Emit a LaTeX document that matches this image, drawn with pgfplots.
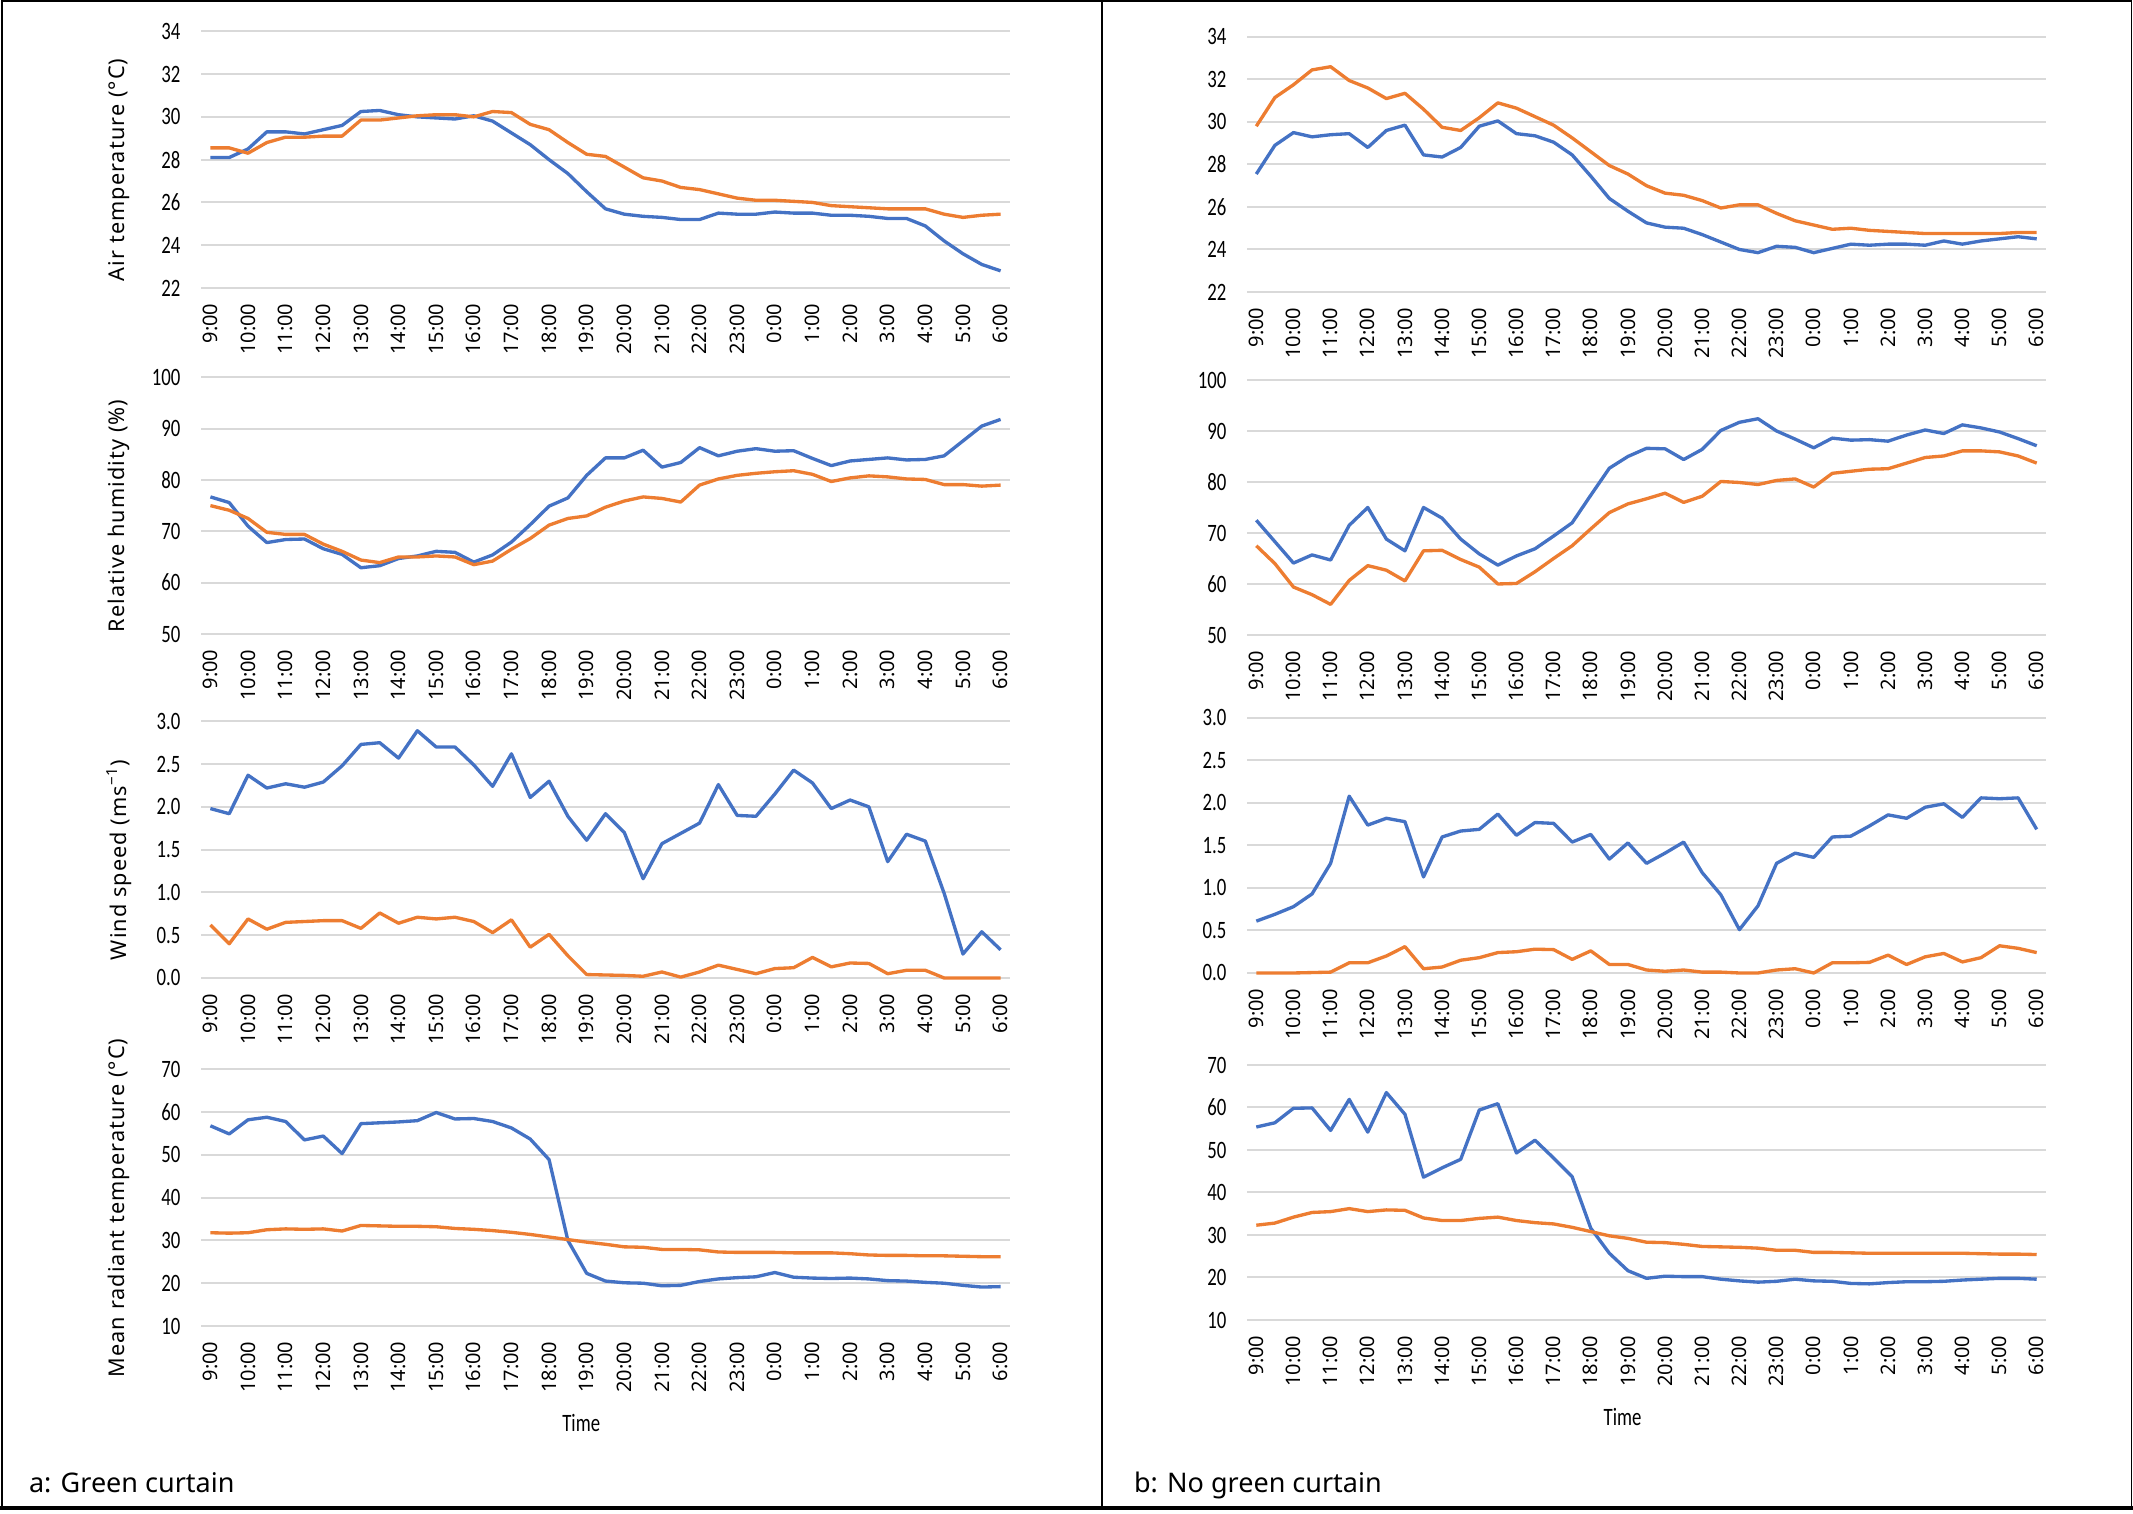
\documentclass[border=0pt]{standalone}
\usepackage{pgfplots}
\pgfplotsset{compat=1.18}
\usepackage{pgfplotstable}
\usepackage{fontspec}
\setmainfont{Noto Sans}
\newfontfamily\narrow[FakeStretch=0.75]{Carlito}
\newfontfamily\wide[LetterSpace=5]{Noto Sans}
\definecolor{xblue}{HTML}{4472C4}
\definecolor{xorange}{HTML}{ED7D31}
\definecolor{gridgray}{HTML}{D9D9D9}

% a: green curtain -- t air temp, h humidity, w wind, m MRT (b = blue, o = orange)
\pgfplotstableread{
i tb to hb ho wb wo mb mo
0 28.1 28.55 76.7 75.0 1.98 0.62 56.8 31.8
1 28.1 28.55 75.6 74.1 1.92 0.40 54.9 31.7
2 28.5 28.3 71.0 72.5 2.37 0.69 58.2 31.8
3 29.3 28.8 67.8 69.8 2.22 0.57 58.8 32.5
4 29.3 29.05 68.4 69.4 2.27 0.65 57.8 32.7
5 29.2 29.05 68.5 69.4 2.23 0.66 53.5 32.6
6 29.4 29.1 66.6 67.5 2.29 0.67 54.4 32.7
7 29.6 29.1 65.5 66.1 2.48 0.67 50.3 32.2
8 30.25 29.85 62.9 64.4 2.73 0.58 57.3 33.5
9 30.3 29.85 63.3 63.9 2.75 0.76 57.5 33.4
10 30.1 29.95 64.7 65.0 2.57 0.64 57.7 33.3
11 30.0 30.05 65.2 65.0 2.89 0.71 58.0 33.3
12 29.95 30.1 66.1 65.2 2.70 0.69 59.9 33.2
13 29.9 30.1 65.9 65.0 2.70 0.71 58.4 32.8
14 30.05 30.0 64.0 63.5 2.49 0.66 58.5 32.6
15 29.8 30.25 65.4 64.2 2.24 0.53 57.8 32.3
16 29.25 30.2 67.9 66.5 2.62 0.68 56.3 31.9
17 28.7 29.65 71.3 68.6 2.11 0.36 53.7 31.4
18 28.0 29.4 74.9 71.2 2.30 0.51 48.9 30.8
19 27.35 28.8 76.5 72.5 1.89 0.26 30.0 30.2
20 26.5 28.25 80.9 73.0 1.61 0.04 22.3 29.6
21 25.7 28.15 84.3 74.7 1.92 0.035 20.5 29.1
22 25.45 27.65 84.3 75.9 1.70 0.03 20.1 28.5
23 25.35 27.15 85.8 76.7 1.16 0.02 20.0 28.4
24 25.3 27.0 82.5 76.4 1.57 0.07 19.4 27.9
25 25.2 26.7 83.4 75.7 1.69 0.01 19.5 27.9
26 25.2 26.6 86.3 79.0 1.81 0.07 20.4 27.8
27 25.5 26.4 84.7 80.2 2.26 0.15 21.0 27.3
28 25.45 26.2 85.6 80.9 1.90 0.10 21.3 27.2
29 25.45 26.1 86.1 81.3 1.89 0.05 21.5 27.2
30 25.55 26.1 85.6 81.6 2.15 0.11 22.5 27.2
31 25.5 26.05 85.7 81.8 2.43 0.12 21.4 27.1
32 25.5 26.0 84.2 81.1 2.28 0.24 21.2 27.1
33 25.4 25.85 82.8 79.7 1.98 0.13 21.1 27.1
34 25.4 25.8 83.7 80.4 2.08 0.175 21.2 26.9
35 25.35 25.75 84.0 80.8 2.00 0.17 21.0 26.6
36 25.25 25.7 84.3 80.6 1.36 0.05 20.6 26.5
37 25.25 25.7 83.9 80.2 1.68 0.09 20.5 26.5
38 24.9 25.7 84.0 80.1 1.60 0.09 20.2 26.4
39 24.2 25.45 84.7 79.1 0.99 0.0 20.0 26.4
40 23.6 25.3 87.6 79.1 0.28 0.0 19.5 26.3
41 23.1 25.4 90.5 78.8 0.54 0.0 19.1 26.2
42 22.8 25.45 91.8 79.0 0.33 0.0 19.2 26.2
}\greencurtain

% b: no green curtain
\pgfplotstableread{
i tb to hb ho wb wo mb mo
0 27.55 29.8 72.5 67.5 0.61 0.0 55.4 32.3
1 28.9 31.15 68.3 64.0 0.69 0.0 56.4 32.8
2 29.5 31.75 64.1 59.4 0.78 0.0 59.8 34.2
3 29.3 32.45 65.7 57.9 0.93 0.005 59.9 35.3
4 29.4 32.6 64.7 56.0 1.29 0.01 54.6 35.5
5 29.45 31.95 71.5 60.7 2.08 0.12 61.9 36.2
6 28.8 31.6 75.0 63.6 1.74 0.12 54.2 35.5
7 29.6 31.1 68.8 62.7 1.82 0.20 63.5 35.9
8 29.85 31.35 66.5 60.6 1.78 0.31 58.4 35.8
9 28.45 30.6 75.0 66.5 1.13 0.05 43.6 34.0
10 28.35 29.75 72.9 66.6 1.60 0.07 45.8 33.4
11 28.8 29.6 68.8 64.8 1.67 0.15 47.8 33.4
12 29.8 30.2 65.9 63.3 1.69 0.18 59.4 33.9
13 30.05 30.9 63.7 60.0 1.87 0.24 60.9 34.2
14 29.45 30.65 65.5 60.1 1.62 0.25 49.3 33.4
15 29.35 30.25 66.9 62.4 1.77 0.28 52.3 32.9
16 29.05 29.85 69.4 65.0 1.76 0.275 48.1 32.6
17 28.45 29.25 72.0 67.5 1.54 0.16 43.7 31.8
18 27.45 28.6 77.4 70.8 1.63 0.26 31.6 30.8
19 26.4 27.95 82.7 74.0 1.34 0.10 25.7 29.8
20 25.8 27.55 85.0 75.7 1.53 0.10 21.6 29.2
21 25.25 27.0 86.6 76.7 1.29 0.035 19.8 28.3
22 25.05 26.65 86.5 77.8 1.41 0.02 20.3 28.2
23 25.0 26.55 84.4 76.0 1.54 0.035 20.2 27.8
24 24.7 26.3 86.4 77.2 1.18 0.01 20.2 27.3
25 24.35 25.95 90.1 80.1 0.92 0.01 19.6 27.2
26 24.0 26.1 91.7 79.9 0.51 0.0 19.2 27.1
27 23.85 26.1 92.4 79.5 0.79 0.0 18.9 26.9
28 24.15 25.7 90.0 80.3 1.29 0.035 19.1 26.4
29 24.1 25.35 88.4 80.6 1.41 0.05 19.6 26.4
30 23.85 25.15 86.7 79.0 1.36 0.0 19.2 25.9
31 24.05 24.95 88.6 81.7 1.60 0.12 19.1 25.9
32 24.25 25.0 88.2 82.1 1.61 0.12 18.6 25.8
33 24.2 24.9 88.3 82.5 1.73 0.125 18.5 25.7
34 24.25 24.85 88.0 82.6 1.86 0.21 18.8 25.7
35 24.25 24.8 89.2 83.7 1.82 0.10 19.0 25.7
36 24.2 24.75 90.2 84.8 1.95 0.19 19.0 25.7
37 24.4 24.75 89.5 85.1 1.99 0.23 19.1 25.7
38 24.25 24.75 91.2 86.1 1.83 0.13 19.4 25.7
39 24.4 24.75 90.6 86.1 2.06 0.18 19.6 25.6
40 24.5 24.75 89.8 85.9 2.05 0.32 19.8 25.5
41 24.6 24.8 88.5 85.1 2.06 0.29 19.8 25.5
42 24.5 24.8 87.1 83.7 1.69 0.24 19.6 25.4
}\nocurtain

\pgfplotsset{
  panel/.style={
    scale only axis, anchor=south west,
    xmin=-0.5, xmax=42.5, clip=false,
    xtick={0,2,...,42},
    xticklabels={9:00,10:00,11:00,12:00,13:00,14:00,15:00,16:00,17:00,18:00,19:00,20:00,21:00,22:00,23:00,0:00,1:00,2:00,3:00,4:00,5:00,6:00},
    xticklabel style={rotate=90, anchor=east, font=\fontsize{6}{7}\selectfont, inner sep=0pt},
    xticklabel shift=4.5pt,
    yticklabel style={font=\narrow\fontsize{7.5}{8}\selectfont, inner sep=0pt},
    yticklabel shift=6pt,
    /pgf/number format/assume math mode=true,
    axis line style={draw=none},
    major tick style={draw=none},
    ymajorgrids, grid style={gridgray, line width=0.6pt},
    ylabel style={at={(axis description cs:-0.101,0.46)}, anchor=center, font=\wide\fontsize{6.5}{7}\selectfont},
    xlabel style={at={(axis description cs:0.47,0)}, anchor=center, yshift=-29pt, font=\narrow\fontsize{7.5}{8}\selectfont},
  },
  lp/.style={panel, width=242.7pt, height=77pt},
  rp/.style={panel, width=239.7pt, height=76.5pt},
  airt/.style={ymin=22, ymax=34, ytick distance=2},
  rh/.style={ymin=50, ymax=100, ytick distance=10},
  wind/.style={ymin=0, ymax=3, ytick distance=0.5,
    yticklabel style={/pgf/number format/.cd, fixed, fixed zerofill, precision=1}},
  mrt/.style={ymin=10, ymax=70, ytick distance=10},
  bl/.style={xblue, line width=1pt, line join=round},
  or/.style={xorange, line width=1pt, line join=round},
}

\begin{document}
\begin{tikzpicture}
\useasboundingbox (0,0) rectangle (639.9pt,454.2pt);
\draw[line width=0.5pt] (0.6pt,2pt) -- (0.6pt,453.9pt) -- (639.4pt,453.9pt) -- (639.4pt,2pt);
\draw[line width=1pt] (0,1.8pt) -- (639.9pt,1.8pt);
\draw[line width=0.5pt] (330.6pt,2pt) -- (330.6pt,453.9pt);

% ---- a: green curtain ----
\begin{axis}[lp, airt, at={(60.3pt,367.8pt)}, ylabel={Air temperature (°C)}]
\addplot[bl] table[x=i, y=tb] {\greencurtain};
\addplot[or] table[x=i, y=to] {\greencurtain};
\end{axis}
\begin{axis}[lp, rh, at={(60.3pt,264pt)}, ylabel={Relative humidity (\%)}]
\addplot[bl] table[x=i, y=hb] {\greencurtain};
\addplot[or] table[x=i, y=ho] {\greencurtain};
\end{axis}
\begin{axis}[lp, wind, at={(60.3pt,160.8pt)}, ylabel={Wind speed (ms\textsuperscript{−1})}]
\addplot[bl] table[x=i, y=wb] {\greencurtain};
\addplot[or] table[x=i, y=wo] {\greencurtain};
\end{axis}
\begin{axis}[lp, mrt, at={(60.3pt,56.4pt)}, ylabel={Mean radiant temperature (°C)}, xlabel={Time}]
\addplot[bl] table[x=i, y=mb] {\greencurtain};
\addplot[or] table[x=i, y=mo] {\greencurtain};
\end{axis}

% ---- b: no green curtain ----
\begin{axis}[rp, airt, at={(374.1pt,366.6pt)}]
\addplot[bl] table[x=i, y=tb] {\nocurtain};
\addplot[or] table[x=i, y=to] {\nocurtain};
\end{axis}
\begin{axis}[rp, rh, at={(374.1pt,263.7pt)}]
\addplot[bl] table[x=i, y=hb] {\nocurtain};
\addplot[or] table[x=i, y=ho] {\nocurtain};
\end{axis}
\begin{axis}[rp, wind, at={(374.1pt,162.3pt)}]
\addplot[bl] table[x=i, y=wb] {\nocurtain};
\addplot[or] table[x=i, y=wo] {\nocurtain};
\end{axis}
\begin{axis}[rp, mrt, at={(374.1pt,58.2pt)}, xlabel={Time}]
\addplot[bl] table[x=i, y=mb] {\nocurtain};
\addplot[or] table[x=i, y=mo] {\nocurtain};
\end{axis}

\node[anchor=base west, inner sep=0pt, font=\fontsize{8.1}{10}\selectfont] at (8.5pt,6.3pt) {a: Green curtain};
\node[anchor=base west, inner sep=0pt, font=\fontsize{8.1}{10}\selectfont] at (340pt,6.3pt) {b: No green curtain};
\end{tikzpicture}
\end{document}
